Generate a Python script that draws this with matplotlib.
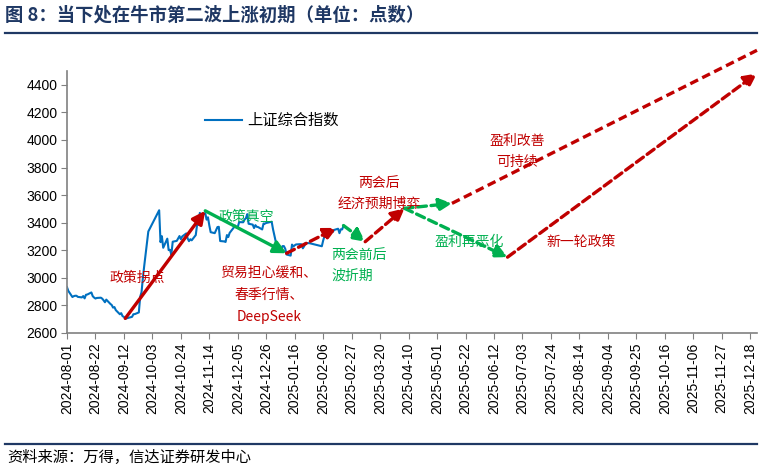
import numpy as np
import pandas as pd
import matplotlib
matplotlib.use("Agg")
import matplotlib.pyplot as plt
import matplotlib.dates as mdates
from matplotlib.lines import Line2D

# ---------------------------------------------------------
# Data: Shanghai Composite daily close
# ---------------------------------------------------------
aug24 = [2932, 2905, 2861, 2867, 2870, 2870, 2862, 2858, 2868, 2851, 2877,
         2879, 2894, 2867, 2857, 2850, 2854, 2856, 2849, 2837, 2823, 2842]
sep24 = [2811, 2803, 2784, 2788, 2766, 2736, 2744, 2722, 2717, 2704, 2717,
         2736, 2737, 2749, 2863, 2896, 3001, 3088, 3336]
oct24 = [3490, 3259, 3302, 3218, 3284, 3201, 3203, 3169, 3262, 3268, 3286,
         3303, 3280, 3300, 3322, 3286, 3266, 3280]
nov24 = [3272, 3310, 3387, 3384, 3471, 3452, 3470, 3422, 3439, 3380, 3331,
         3324, 3346, 3368, 3370, 3267, 3264, 3260, 3310, 3296, 3326]
dec24 = [3364, 3379, 3365, 3369, 3404, 3403, 3423, 3432, 3462, 3392, 3386,
         3361, 3382, 3370, 3368, 3351, 3394, 3393, 3398, 3400, 3407, 3352]
jan25 = [3263, 3211, 3207, 3230, 3230, 3211, 3169, 3161, 3241, 3227, 3236,
         3242, 3244, 3243, 3214, 3230, 3253, 3251]
feb25 = [3229, 3271, 3304, 3322, 3318, 3346, 3332, 3347, 3356, 3324, 3352,
         3351, 3379]
index_values = aug24 + sep24 + oct24 + nov24 + dec24 + jan25 + feb25

holidays = ["2024-09-16", "2024-09-17", "2024-10-01", "2024-10-02",
            "2024-10-03", "2024-10-04", "2024-10-07", "2025-01-01",
            "2025-01-28", "2025-01-29", "2025-01-30", "2025-01-31",
            "2025-02-03", "2025-02-04"]
trade_days = pd.bdate_range("2024-08-01", "2025-02-21")
trade_days = trade_days[~trade_days.isin(pd.to_datetime(holidays))]

tick_dates = pd.date_range("2024-08-01", periods=25, freq="21D")
tick_labels = [d.strftime("%Y-%m-%d") for d in tick_dates]

# arrows: (start date, start value, end date, end value, colour, dashed, head)
arrows = [
    ("2024-09-13", 2706, "2024-11-11", 3486, "red", False, True),
    ("2024-11-11", 3486, "2025-01-10", 3178, "green", False, True),
    ("2025-01-10", 3178, "2025-02-16", 3362, "red", True, True),
    ("2025-02-21", 3379, "2025-03-09", 3262, "green", True, True),
    ("2025-03-09", 3262, "2025-04-07", 3504, "red", True, True),
    ("2025-04-07", 3504, "2025-05-12", 3540, "green", True, True),
    ("2025-05-12", 3540, "2025-12-23", 4650, "red", True, False),
    ("2025-04-07", 3504, "2025-06-22", 3150, "green", True, True),
    ("2025-06-22", 3150, "2025-12-23", 4482, "red", True, True),
]

# notes: (text, date, value, colour, alignment, line spacing)
notes = [
    ("政策拐点", "2024-09-22", 3000, "red", "center", 1.6),
    ("政策真空", "2024-12-11", 3443, "green", "center", 1.6),
    ("贸易担心缓和、\n春季行情、\nDeepSeek", "2024-12-28", 2875, "red", "center", 1.75),
    ("两会前后\n波折期", "2025-02-12", 3093, "green", "left", 1.6),
    ("两会后\n经济预期博弈", "2025-03-19", 3614, "red", "center", 1.6),
    ("盈利再恶化", "2025-05-25", 3262, "green", "center", 1.6),
    ("盈利改善\n可持续", "2025-06-29", 3914, "red", "center", 1.6),
    ("新一轮政策", "2025-08-15", 3262, "red", "center", 1.6),
]

colors = {"red": "#C00000", "green": "#00B050"}
cjk = ["Noto Sans CJK SC", "DejaVu Sans"]
navy = "#1F3864"

# ---------------------------------------------------------
# Figure
# ---------------------------------------------------------
fig = plt.figure(figsize=(7.62, 4.70), dpi=100)
ax = fig.add_axes([0.0879, 0.2915, 0.9055, 0.5575])

ax.plot(trade_days, index_values, color="#0070C0", lw=1.5, label="上证综合指数")

for d0, v0, d1, v1, c, dashed, head in arrows:
    x0 = mdates.date2num(pd.Timestamp(d0))
    x1 = mdates.date2num(pd.Timestamp(d1))
    ls = (0, (2.6, 1.4)) if dashed else "-"
    if head:
        ax.annotate("", xy=(x1, v1), xytext=(x0, v0), annotation_clip=False,
                    arrowprops=dict(arrowstyle="-|>", color=colors[c], lw=2.4,
                                    linestyle=ls, mutation_scale=19,
                                    shrinkA=0, shrinkB=0))
    else:
        ax.plot([x0, x1], [v0, v1], color=colors[c], lw=2.4, linestyle=ls,
                clip_on=False)

for txt, d, v, c, ha, sp in notes:
    ax.text(pd.Timestamp(d), v, txt, color=colors[c], fontsize=10,
            family=cjk, ha=ha, va="center", linespacing=sp)

ax.set_xlim(pd.Timestamp("2024-08-01"), pd.Timestamp("2025-12-23"))
ax.set_ylim(2600, 4500)
ax.set_yticks(np.arange(2600, 4401, 200))
ax.set_xticks(tick_dates)
ax.set_xticklabels(tick_labels, rotation=90)
for lab in ax.get_xticklabels() + ax.get_yticklabels():
    lab.set_family("Liberation Sans")
    lab.set_fontsize(10)
ax.tick_params(direction="out", length=4, color="#808080", pad=3)
for s in ["top", "right"]:
    ax.spines[s].set_visible(False)
for s in ["left", "bottom"]:
    ax.spines[s].set_color("#808080")
    ax.spines[s].set_linewidth(1.2)

leg = ax.legend(loc="upper left", bbox_to_anchor=(0.18, 0.895), frameon=False,
                prop={"family": cjk, "size": 11}, handlelength=2.4,
                handletextpad=0.4)

# header / footer
fig.text(0.007, 0.967, "图 8：当下处在牛市第二波上涨初期（单位：点数）",
         fontsize=13.2, fontweight="bold", color=navy, family=cjk,
         ha="left", va="center")
fig.add_artist(Line2D([0.007, 0.993], [0.93, 0.93], color=navy, lw=1.6))
fig.add_artist(Line2D([0.007, 0.993], [0.0553, 0.0553], color=navy, lw=1.6))
fig.text(0.01, 0.026, "资料来源：万得，信达证券研发中心", fontsize=11,
         color="black", family=cjk, ha="left", va="center")

fig.savefig("out.png", dpi=100)
